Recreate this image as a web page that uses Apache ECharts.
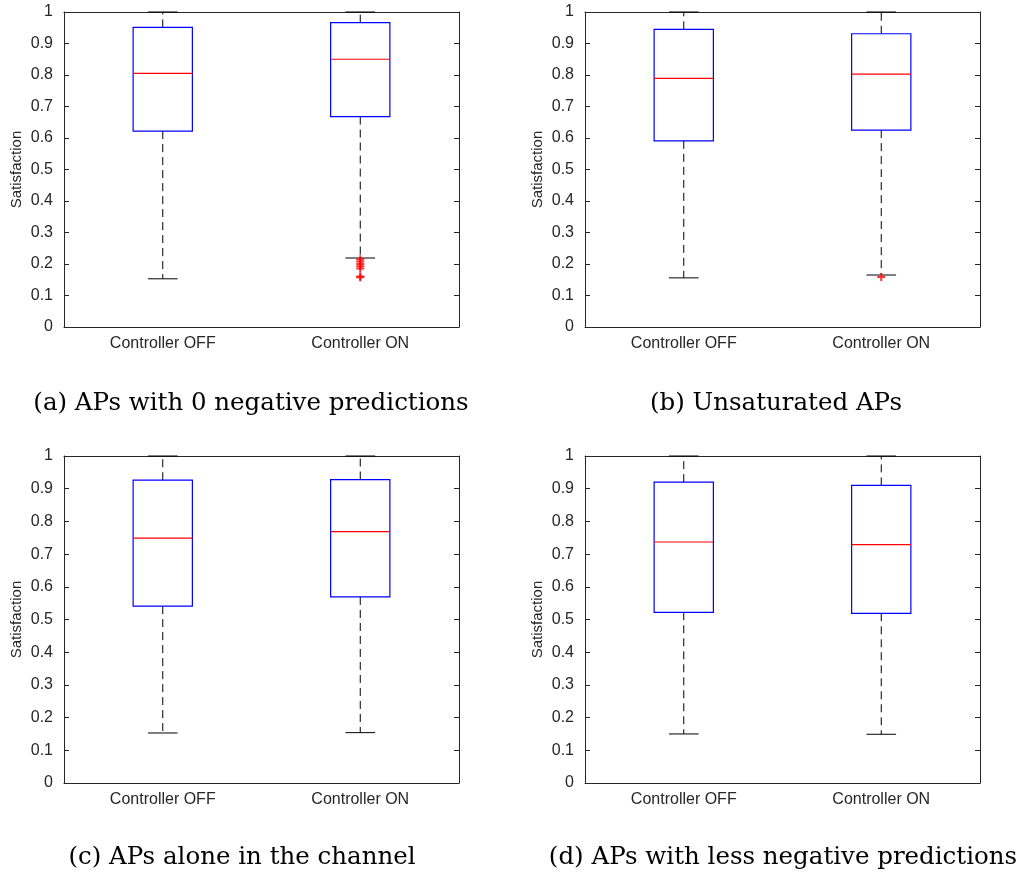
<!DOCTYPE html>
<html>
<head>
<meta charset="utf-8">
<script src="https://cdn.jsdelivr.net/npm/echarts@6/dist/echarts.min.js"></script>
<style>
  html, body { margin: 0; padding: 0; background: #fff; }
  #chart { width: 1021px; height: 877px; }
</style>
</head>
<body>
<div id="chart"></div>
<script>
const categories = ['Controller OFF', 'Controller ON'];
const yTicks = [0, 0.1, 0.2, 0.3, 0.4, 0.5, 0.6, 0.7, 0.8, 0.9, 1];

// [min, Q1, median, Q3, max] per category
const boxA = [[0.153, 0.622, 0.805, 0.951, 1.0], [0.219, 0.668, 0.850, 0.966, 1.0]];
const boxB = [[0.156, 0.591, 0.789, 0.945, 1.0], [0.165, 0.625, 0.803, 0.931, 1.0]];
const boxC = [[0.153, 0.541, 0.749, 0.926, 1.0], [0.154, 0.569, 0.769, 0.928, 1.0]];
const boxD = [[0.150, 0.522, 0.737, 0.920, 1.0], [0.149, 0.519, 0.729, 0.910, 1.0]];

// outliers: [category index, value]
const outA = [[1, 0.215], [1, 0.208], [1, 0.2], [1, 0.193], [1, 0.186], [1, 0.16], [1, 0.158]];
const outB = [[1, 0.159]];

const captions = [
  '(a) APs with 0 negative predictions',
  '(b) Unsaturated APs',
  '(c) APs alone in the channel',
  '(d) APs with less negative predictions'
];

const chart = echarts.init(document.getElementById('chart'));

const grids = [
  { left: 64, top: 12, width: 395, height: 315 },
  { left: 585, top: 12, width: 395, height: 315 },
  { left: 64, top: 456, width: 395, height: 327 },
  { left: 585, top: 456, width: 395, height: 327 }
];
const captionPos = [[251, 404], [776, 404], [242, 858], [783, 858]];

const axisColor = '#262626';
const fontFam = 'Liberation Sans, Arial, sans-serif';
const tickFont = { color: '#262626', fontSize: 16, fontFamily: fontFam };
const nameFont = { color: '#262626', fontSize: 15, fontFamily: fontFam };

const xAxes = [];
const yAxes = [];
grids.forEach((g, i) => {
  xAxes.push({
    type: 'category', gridIndex: i, data: categories, position: 'bottom',
    axisLine: { onZero: false, lineStyle: { color: axisColor } },
    axisTick: { inside: true, alignWithLabel: true, length: 5, lineStyle: { color: axisColor } },
    axisLabel: Object.assign({ margin: 9 }, tickFont),
    splitLine: { show: false }
  });
  xAxes.push({
    type: 'category', gridIndex: i, data: categories, position: 'top',
    axisLine: { onZero: false, lineStyle: { color: axisColor } },
    axisTick: { inside: true, alignWithLabel: true, length: 5, lineStyle: { color: axisColor } },
    axisLabel: { show: false }
  });
  yAxes.push({
    type: 'value', gridIndex: i, min: 0, max: 1, interval: 0.1, position: 'left',
    name: 'Satisfaction', nameLocation: 'middle', nameGap: 40,
    nameTextStyle: nameFont,
    axisLine: { show: true, onZero: false, lineStyle: { color: axisColor } },
    axisTick: { show: true, inside: true, length: 5, lineStyle: { color: axisColor } },
    axisLabel: Object.assign({ margin: 11, formatter: v => yTicks.includes(+v.toFixed(1)) ? String(+v.toFixed(1)) : '' }, tickFont),
    splitLine: { show: false }
  });
  yAxes.push({
    type: 'value', gridIndex: i, min: 0, max: 1, interval: 0.1, position: 'right',
    axisLine: { show: true, onZero: false, lineStyle: { color: axisColor } },
    axisTick: { show: true, inside: true, length: 5, lineStyle: { color: axisColor } },
    axisLabel: { show: false },
    splitLine: { show: false }
  });
});

function renderBox(params, api) {
  const cat = api.value(0);
  const pMin = api.coord([cat, api.value(1)]);
  const pQ1 = api.coord([cat, api.value(2)]);
  const pMed = api.coord([cat, api.value(3)]);
  const pQ3 = api.coord([cat, api.value(4)]);
  const pMax = api.coord([cat, api.value(5)]);
  const w = api.size([1, 0])[0] * 0.3;
  const cx = pMed[0];
  const dash = { stroke: '#000', lineWidth: 1, lineDash: [8, 5] };
  const solid = { stroke: '#000', lineWidth: 1 };
  return {
    type: 'group',
    children: [
      { type: 'line', shape: { x1: cx, y1: pQ3[1], x2: cx, y2: pMax[1] }, style: dash },
      { type: 'line', shape: { x1: cx, y1: pQ1[1], x2: cx, y2: pMin[1] }, style: dash },
      { type: 'line', shape: { x1: cx - w / 4, y1: pMax[1], x2: cx + w / 4, y2: pMax[1] }, style: solid },
      { type: 'line', shape: { x1: cx - w / 4, y1: pMin[1], x2: cx + w / 4, y2: pMin[1] }, style: solid },
      { type: 'rect', shape: { x: cx - w / 2, y: pQ3[1], width: w, height: pQ1[1] - pQ3[1] },
        style: { fill: 'none', stroke: '#0000ff', lineWidth: 1.2 } },
      { type: 'line', shape: { x1: cx - w / 2, y1: pMed[1], x2: cx + w / 2, y2: pMed[1] },
        style: { stroke: '#ff0000', lineWidth: 1.2 } }
    ]
  };
}

const boxes = [boxA, boxB, boxC, boxD];
const series = boxes.map((b, i) => ({
  type: 'custom',
  xAxisIndex: i * 2,
  yAxisIndex: i * 2,
  renderItem: renderBox,
  encode: { x: 0, y: [1, 2, 3, 4, 5] },
  data: b.map((v, k) => [k].concat(v)),
  silent: true,
  z: 5
}));

const plusSymbol = 'path://M3,0L5,0L5,3L8,3L8,5L5,5L5,8L3,8L3,5L0,5L0,3L3,3Z';
[[outA, 0], [outB, 1]].forEach(([pts, i]) => {
  series.push({
    type: 'scatter',
    xAxisIndex: i * 2,
    yAxisIndex: i * 2,
    data: pts,
    symbol: plusSymbol,
    symbolSize: 8,
    itemStyle: { color: '#ff0000' },
    silent: true,
    z: 6
  });
});

const graphic = captions.map((t, i) => ({
  type: 'text',
  x: captionPos[i][0],
  y: captionPos[i][1],
  style: {
    text: t,
    fill: '#000',
    font: '24.5px "DejaVu Serif", "Liberation Serif", serif',
    textAlign: 'center',
    textVerticalAlign: 'middle'
  }
}));

chart.setOption({
  animation: false,
  backgroundColor: '#fff',
  grid: grids,
  xAxis: xAxes,
  yAxis: yAxes,
  series: series,
  graphic: graphic
});
</script>
</body>
</html>
